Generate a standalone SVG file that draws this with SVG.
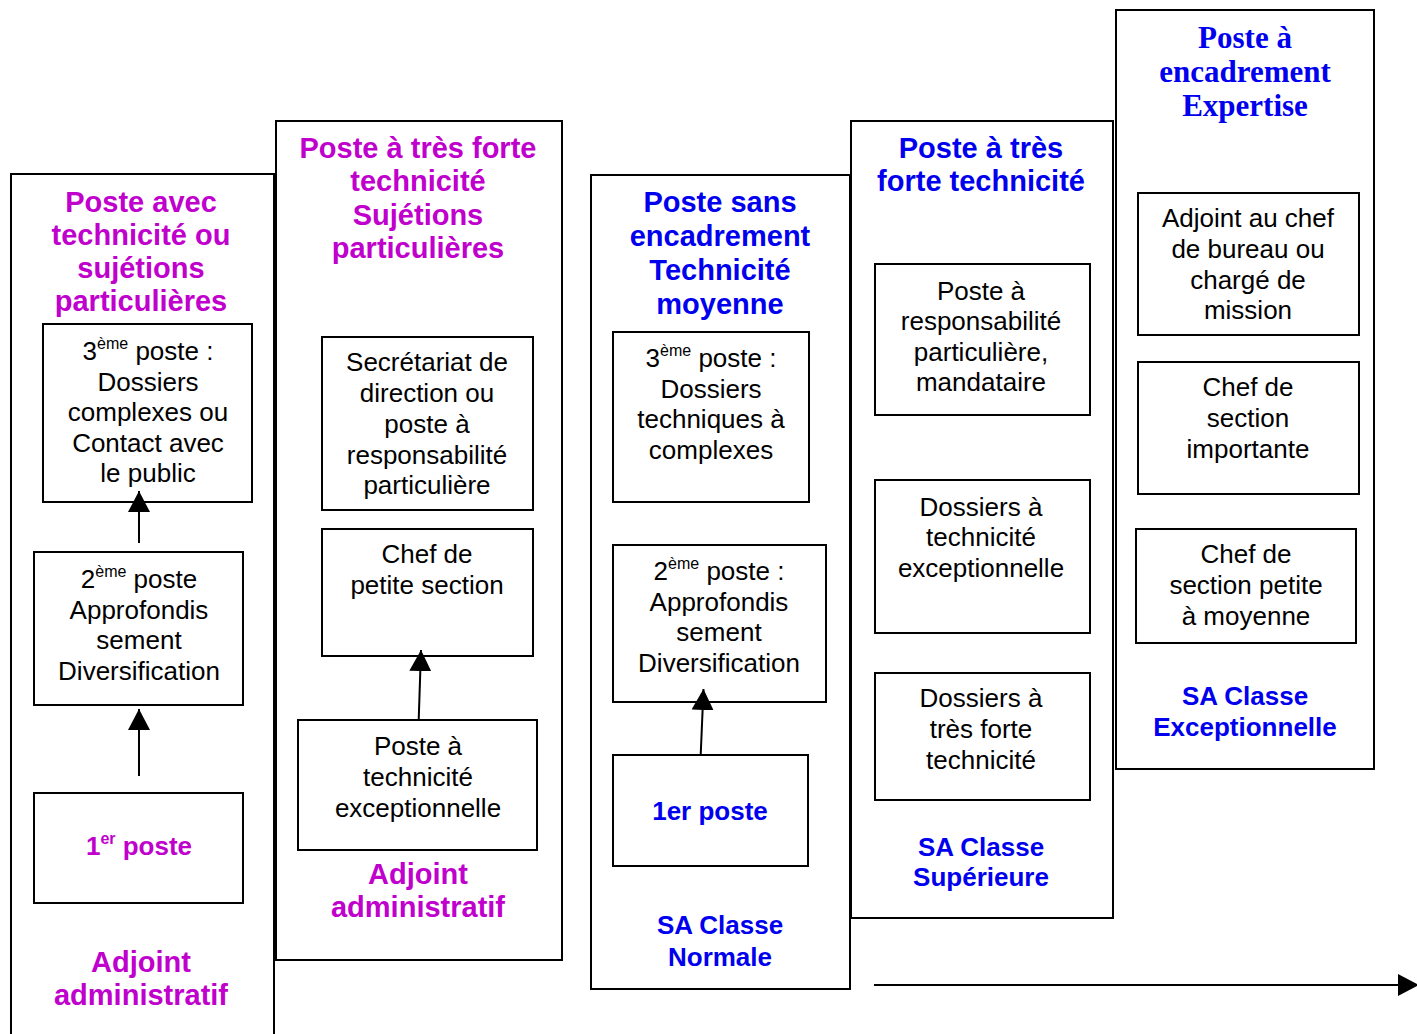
<svg xmlns="http://www.w3.org/2000/svg" width="1417" height="1034" viewBox="0 0 1417 1034">
<defs>
<style>
.panel{fill:#fff;stroke:#000;stroke-width:2}
.box{fill:#fff;stroke:#000;stroke-width:2}
.t{font-family:"Liberation Sans",Arial,sans-serif;font-size:26px;fill:#000;text-anchor:middle}
.hm{font-family:"Liberation Sans",Arial,sans-serif;font-size:29px;font-weight:bold;fill:#C000CC;text-anchor:middle}
.hb{font-family:"Liberation Sans",Arial,sans-serif;font-size:29px;font-weight:bold;fill:#0000EE;text-anchor:middle}
.lb{font-family:"Liberation Sans",Arial,sans-serif;font-size:26px;font-weight:bold;fill:#0000EE;text-anchor:middle}
.lm{font-family:"Liberation Sans",Arial,sans-serif;font-size:26px;font-weight:bold;fill:#C000CC;text-anchor:middle}
.hs{font-family:"Liberation Serif","Times New Roman",serif;font-size:31px;font-weight:bold;fill:#0000EE;text-anchor:middle}
.sup{font-size:16px}
.conn{stroke:#000;stroke-width:2;fill:none}
</style>
<marker id="ah" markerWidth="22" markerHeight="22" refX="21" refY="11" orient="auto" markerUnits="userSpaceOnUse">
<path d="M0,0 L21,11 L0,22 Z" fill="#000"/>
</marker>
</defs>

<g id="panel1">
<rect class="panel" x="11" y="174" width="263" height="880"/>
<text class="hm" x="141" y="212">Poste avec</text>
<text class="hm" x="141" y="245">technicité ou</text>
<text class="hm" x="141" y="278">sujétions</text>
<text class="hm" x="141" y="311">particulières</text>
<text class="hm" x="141" y="972">Adjoint</text>
<text class="hm" x="141" y="1005">administratif</text>
</g>

<g id="panel2">
<rect class="panel" x="276" y="121" width="286" height="839"/>
<text class="hm" x="418" y="158">Poste à très forte</text>
<text class="hm" x="418" y="191">technicité</text>
<text class="hm" x="418" y="225">Sujétions</text>
<text class="hm" x="418" y="258">particulières</text>
<text class="hm" x="418" y="884">Adjoint</text>
<text class="hm" x="418" y="917">administratif</text>
</g>

<g id="panel3">
<rect class="panel" x="591" y="175" width="259" height="814"/>
<text class="hb" x="720" y="212">Poste sans</text>
<text class="hb" x="720" y="246">encadrement</text>
<text class="hb" x="720" y="280">Technicité</text>
<text class="hb" x="720" y="314">moyenne</text>
<text class="lb" x="720" y="934">SA Classe</text>
<text class="lb" x="720" y="966">Normale</text>
</g>

<g id="panel4">
<rect class="panel" x="851" y="121" width="262" height="797"/>
<text class="hb" x="981" y="158">Poste à très</text>
<text class="hb" x="981" y="191">forte technicité</text>
<text class="lb" x="981" y="856">SA Classe</text>
<text class="lb" x="981" y="886">Supérieure</text>
</g>

<g id="panel5">
<rect class="panel" x="1116" y="10" width="258" height="759"/>
<text class="hs" x="1245" y="48">Poste à</text>
<text class="hs" x="1245" y="82">encadrement</text>
<text class="hs" x="1245" y="116">Expertise</text>
<text class="lb" x="1245" y="705">SA Classe</text>
<text class="lb" x="1245" y="736">Exceptionnelle</text>
</g>

<g id="p1-poste3">
<rect class="box" x="43" y="324" width="209" height="178"/>
<text class="t" x="148" y="360">3<tspan class="sup" dy="-11">ème</tspan><tspan dy="11"> poste :</tspan></text>
<text class="t" x="148" y="391">Dossiers</text>
<text class="t" x="148" y="421">complexes ou</text>
<text class="t" x="148" y="452">Contact avec</text>
<text class="t" x="148" y="482">le public</text>
</g>

<g id="p1-poste2">
<rect class="box" x="34" y="552" width="209" height="153"/>
<text class="t" x="139" y="588">2<tspan class="sup" dy="-11">ème</tspan><tspan dy="11"> poste</tspan></text>
<text class="t" x="139" y="619">Approfondis</text>
<text class="t" x="139" y="649">sement</text>
<text class="t" x="139" y="680">Diversification</text>
</g>

<g id="p1-poste1">
<rect class="box" x="34" y="793" width="209" height="110"/>
<text class="lm" x="139" y="855">1<tspan class="sup" dy="-11">er</tspan><tspan dy="11"> poste</tspan></text>
</g>

<g id="p2-secretariat">
<rect class="box" x="322" y="337" width="211" height="173"/>
<text class="t" x="427" y="371">Secrétariat de</text>
<text class="t" x="427" y="402">direction ou</text>
<text class="t" x="427" y="433">poste à</text>
<text class="t" x="427" y="464">responsabilité</text>
<text class="t" x="427" y="494">particulière</text>
</g>

<g id="p2-chef">
<rect class="box" x="322" y="529" width="211" height="127"/>
<text class="t" x="427" y="563">Chef de</text>
<text class="t" x="427" y="594">petite section</text>
</g>

<g id="p2-technicite">
<rect class="box" x="298" y="720" width="239" height="130"/>
<text class="t" x="418" y="755">Poste à</text>
<text class="t" x="418" y="786">technicité</text>
<text class="t" x="418" y="817">exceptionnelle</text>
</g>

<g id="p3-poste3">
<rect class="box" x="613" y="332" width="196" height="170"/>
<text class="t" x="711" y="367">3<tspan class="sup" dy="-11">ème</tspan><tspan dy="11"> poste :</tspan></text>
<text class="t" x="711" y="398">Dossiers</text>
<text class="t" x="711" y="428">techniques à</text>
<text class="t" x="711" y="459">complexes</text>
</g>

<g id="p3-poste2">
<rect class="box" x="613" y="545" width="213" height="157"/>
<text class="t" x="719" y="580">2<tspan class="sup" dy="-11">ème</tspan><tspan dy="11"> poste :</tspan></text>
<text class="t" x="719" y="611">Approfondis</text>
<text class="t" x="719" y="641">sement</text>
<text class="t" x="719" y="672">Diversification</text>
</g>

<g id="p3-poste1">
<rect class="box" x="613" y="755" width="195" height="111"/>
<text class="lb" x="710" y="820">1er poste</text>
</g>

<g id="p4-responsabilite">
<rect class="box" x="875" y="264" width="215" height="151"/>
<text class="t" x="981" y="300">Poste à</text>
<text class="t" x="981" y="330">responsabilité</text>
<text class="t" x="981" y="361">particulière,</text>
<text class="t" x="981" y="391">mandataire</text>
</g>

<g id="p4-exceptionnelle">
<rect class="box" x="875" y="480" width="215" height="153"/>
<text class="t" x="981" y="516">Dossiers à</text>
<text class="t" x="981" y="546">technicité</text>
<text class="t" x="981" y="577">exceptionnelle</text>
</g>

<g id="p4-tresforte">
<rect class="box" x="875" y="673" width="215" height="127"/>
<text class="t" x="981" y="707">Dossiers à</text>
<text class="t" x="981" y="738">très forte</text>
<text class="t" x="981" y="769">technicité</text>
</g>

<g id="p5-adjoint">
<rect class="box" x="1138" y="193" width="221" height="142"/>
<text class="t" x="1248" y="227">Adjoint au chef</text>
<text class="t" x="1248" y="258">de bureau ou</text>
<text class="t" x="1248" y="289">chargé de</text>
<text class="t" x="1248" y="319">mission</text>
</g>

<g id="p5-chef-importante">
<rect class="box" x="1138" y="362" width="221" height="132"/>
<text class="t" x="1248" y="396">Chef de</text>
<text class="t" x="1248" y="427">section</text>
<text class="t" x="1248" y="458">importante</text>
</g>

<g id="p5-chef-petite">
<rect class="box" x="1136" y="529" width="220" height="114"/>
<text class="t" x="1246" y="563">Chef de</text>
<text class="t" x="1246" y="594">section petite</text>
<text class="t" x="1246" y="625">à moyenne</text>
</g>

<g id="connectors">
<line class="conn" x1="139" y1="543" x2="139" y2="491" marker-end="url(#ah)"/>
<line class="conn" x1="139" y1="776" x2="139" y2="709" marker-end="url(#ah)"/>
<line class="conn" x1="418.7" y1="720" x2="421" y2="650" marker-end="url(#ah)"/>
<line class="conn" x1="700.7" y1="755" x2="703.5" y2="689" marker-end="url(#ah)"/>
<line class="conn" x1="874" y1="985" x2="1419" y2="985" marker-end="url(#ah)"/>
</g>
</svg>
